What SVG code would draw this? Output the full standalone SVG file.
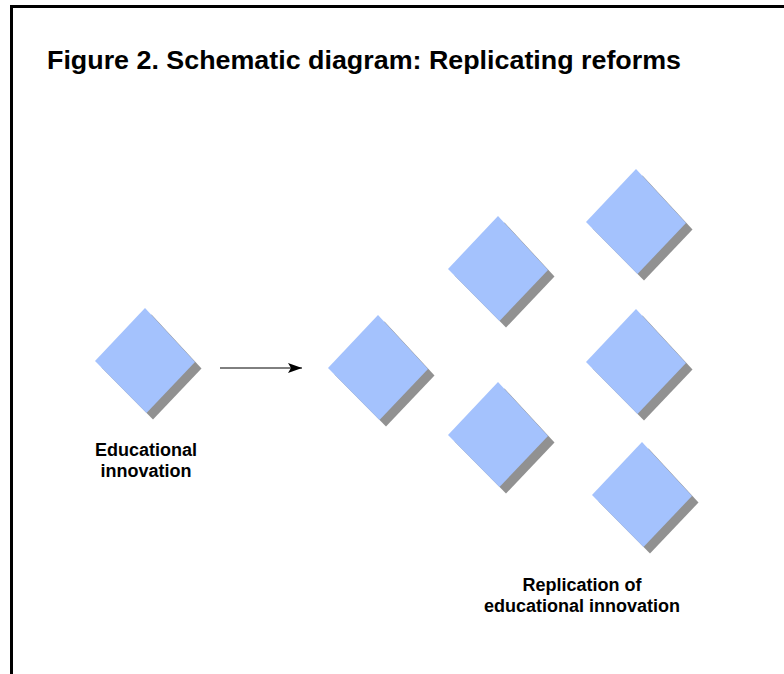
<svg xmlns="http://www.w3.org/2000/svg" xmlns:xlink="http://www.w3.org/1999/xlink" width="784" height="674" viewBox="0 0 784 674">
  <style>
    .frame { stroke: #000; stroke-width: 3; fill: none; }
    .title { font-family: "Liberation Sans", Arial, sans-serif; font-weight: bold; font-size: 26.5px; fill: #000; }
    .label { font-family: "Liberation Sans", Arial, sans-serif; font-weight: bold; font-size: 18px; fill: #000; text-anchor: middle; }
    .face { fill: #A4C2FD; }
    .shadow { fill: #919191; }
    .link { stroke: #000; stroke-width: 1; fill: none; }
  </style>
  <defs>
    <!-- tilted tile with a drop shadow; origin is the top corner -->
    <g id="tile">
      <path class="shadow" d="M6.5,6.5 L56.5,60.5 L8,111.5 L-43.5,59.5 Z"/>
      <path class="face" d="M0,0 L50,54 L1.5,105 L-50,53 Z"/>
    </g>
    <marker id="arrowhead" markerWidth="14" markerHeight="10" refX="14" refY="5" orient="auto" markerUnits="userSpaceOnUse">
      <path d="M0,0 L14,5 L0,10 L3,5 Z" fill="#000"/>
    </marker>
  </defs>

  <rect width="784" height="674" fill="#fff"/>

  <!-- page frame: top and left rules only -->
  <path class="frame" d="M11.5,674 L11.5,6.5 L784,6.5"/>

  <text class="title" x="47" y="69" textLength="634" lengthAdjust="spacingAndGlyphs">Figure 2. Schematic diagram: Replicating reforms</text>

  <!-- source innovation -->
  <g id="node-innovation">
    <use xlink:href="#tile" x="145" y="308"/>
    <text class="label" x="146" y="456">Educational</text>
    <text class="label" x="146" y="477">innovation</text>
  </g>

  <!-- replications -->
  <g id="node-replica-1"><use xlink:href="#tile" x="378" y="315"/></g>
  <g id="node-replica-2"><use xlink:href="#tile" x="498" y="216"/></g>
  <g id="node-replica-3"><use xlink:href="#tile" x="498" y="382"/></g>
  <g id="node-replica-4"><use xlink:href="#tile" x="636" y="169"/></g>
  <g id="node-replica-5"><use xlink:href="#tile" x="636" y="309"/></g>
  <g id="node-replica-6"><use xlink:href="#tile" x="642" y="442"/></g>

  <g id="label-replication">
    <text class="label" x="582" y="591">Replication of</text>
    <text class="label" x="582" y="612">educational innovation</text>
  </g>

  <g id="connectors">
    <line class="link" x1="220" y1="368" x2="302" y2="368" marker-end="url(#arrowhead)"/>
  </g>
</svg>
